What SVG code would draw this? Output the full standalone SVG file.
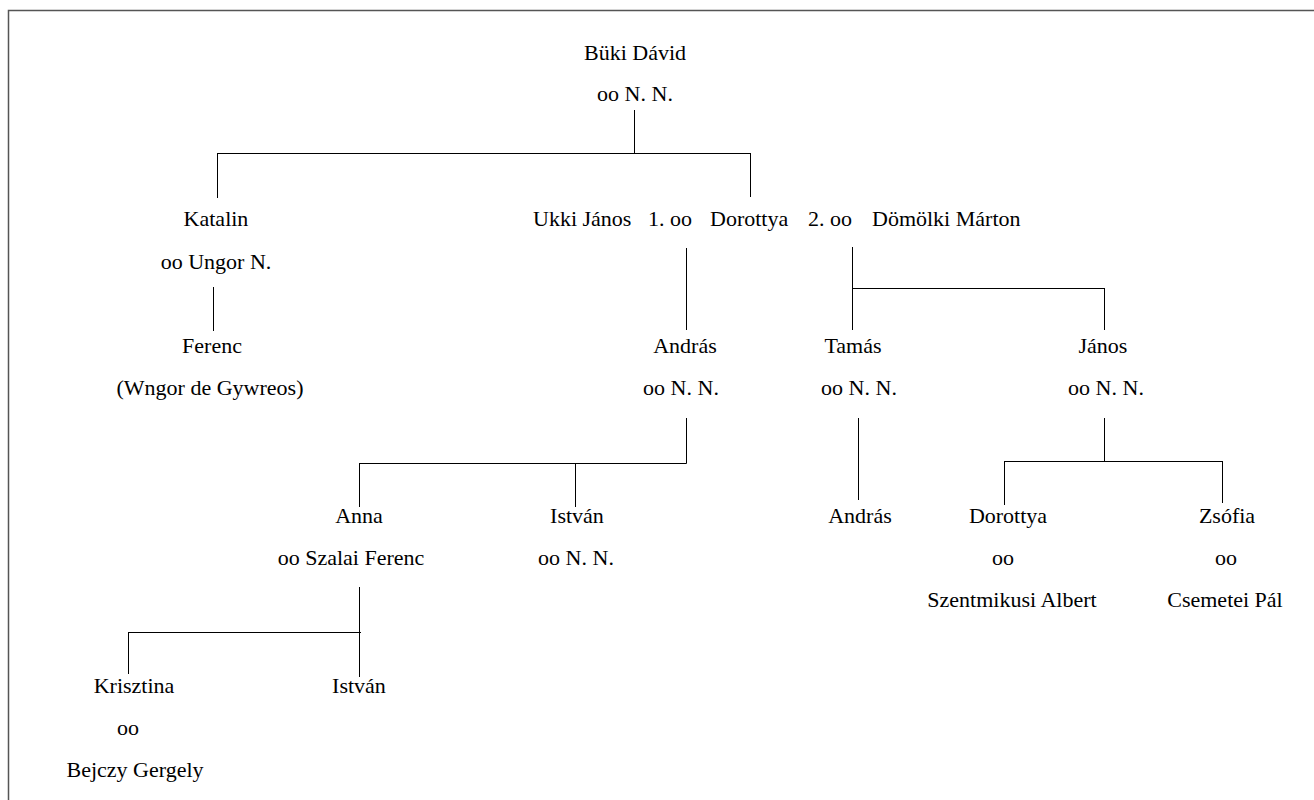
<svg xmlns="http://www.w3.org/2000/svg" width="1314" height="800" viewBox="0 0 1314 800">
<style>
text{font-family:"Liberation Serif","Times New Roman",serif;font-size:22px;fill:#000;text-anchor:middle}
.l{text-anchor:start}
#connectors path{stroke:#000;stroke-width:1;fill:none}
</style>
<rect x="8.5" y="10.5" width="1320" height="800" fill="#fff" stroke="#555" stroke-width="1.5"/>
<g id="connectors">
<path d="M634.5 110V153"/>
<path d="M217.5 153.5H750.5"/>
<path d="M217.5 153V198"/>
<path d="M750.5 153V197"/>
<path d="M213.5 287V331"/>
<path d="M686.5 248V330"/>
<path d="M852.5 247V330"/>
<path d="M852 288.5H1104.5"/>
<path d="M1104.5 288V330"/>
<path d="M686.5 418V463.5"/>
<path d="M359 463.5H686.5"/>
<path d="M359.5 463V507"/>
<path d="M575.5 464V507"/>
<path d="M858.5 418V500"/>
<path d="M1104.5 418V462"/>
<path d="M1004 461.5H1222.5"/>
<path d="M1004.5 461V505"/>
<path d="M1222.5 461V503"/>
<path d="M359.5 587V677"/>
<path d="M128 632.5H361"/>
<path d="M128.5 632V674"/>
</g>
<g id="buki"><text x="635" y="60">Büki Dávid</text><text x="635" y="101">oo N. N.</text></g>
<g id="katalin"><text x="216" y="226">Katalin</text><text x="216" y="269">oo Ungor N.</text></g>
<g id="dorottya-couple"><text class="l" x="533" y="226">Ukki János</text><text class="l" x="648" y="226">1. oo</text><text class="l" x="710" y="226">Dorottya</text><text class="l" x="808" y="226">2. oo</text><text class="l" x="872" y="226">Dömölki Márton</text></g>
<g id="ferenc"><text x="212" y="353">Ferenc</text><text x="210" y="395">(Wngor de Gywreos)</text></g>
<g id="andras1"><text x="685" y="353">András</text><text x="681" y="395">oo N. N.</text></g>
<g id="tamas"><text x="853" y="353">Tamás</text><text x="859" y="395">oo N. N.</text></g>
<g id="janos"><text x="1103" y="353">János</text><text x="1106" y="395">oo N. N.</text></g>
<g id="anna"><text x="359" y="523">Anna</text><text x="351" y="565">oo Szalai Ferenc</text></g>
<g id="istvan1"><text x="577" y="523">István</text><text x="576" y="565">oo N. N.</text></g>
<g id="andras2"><text x="860" y="523">András</text></g>
<g id="dorottya2"><text x="1008" y="523">Dorottya</text><text x="1003" y="565">oo</text><text x="1012" y="607">Szentmikusi Albert</text></g>
<g id="zsofia"><text x="1227" y="523">Zsófia</text><text x="1226" y="565">oo</text><text x="1225" y="607">Csemetei Pál</text></g>
<g id="krisztina"><text x="134" y="693">Krisztina</text><text x="128" y="735">oo</text><text x="135" y="777">Bejczy Gergely</text></g>
<g id="istvan2"><text x="359" y="693">István</text></g>
</svg>
